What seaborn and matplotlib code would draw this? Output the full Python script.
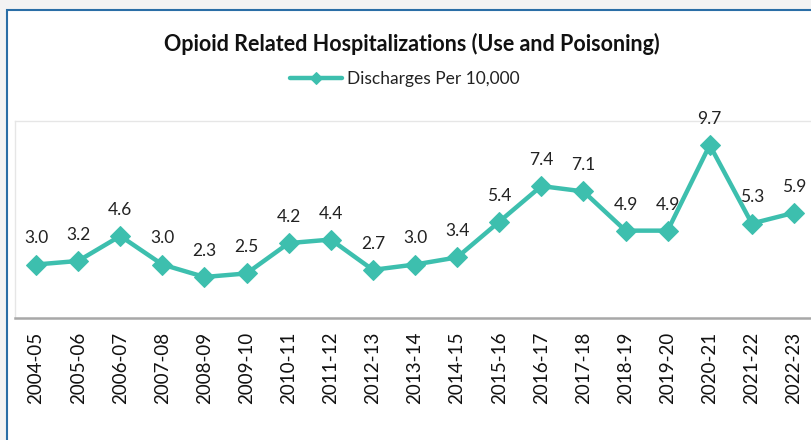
import pandas as pd
import seaborn as sns
import matplotlib.pyplot as plt
from matplotlib.patches import Rectangle

# fiscal years and discharges per 10,000
years = ["2004-05", "2005-06", "2006-07", "2007-08", "2008-09", "2009-10",
         "2010-11", "2011-12", "2012-13", "2013-14", "2014-15", "2015-16",
         "2016-17", "2017-18", "2018-19", "2019-20", "2020-21", "2021-22",
         "2022-23"]
rates = [3.0, 3.2, 4.6, 3.0, 2.3, 2.5, 4.2, 4.4, 2.7, 3.0, 3.4, 5.4,
         7.4, 7.1, 4.9, 4.9, 9.7, 5.3, 5.9]

df = pd.DataFrame({"year": years, "rate": rates})
df["pos"] = range(len(df))

teal = "#3dbfae"

sns.set_style("white")
plt.rcParams["font.family"] = ["Lato", "DejaVu Sans"]

fig = plt.figure(figsize=(8.11, 4.40), dpi=100)
fig.patch.set_facecolor("#f3f3f3")

# white card with blue frame, behind everything
fig.patches.append(Rectangle((7 / 811, -0.1), 1.0, (430 / 440) + 0.1,
                             transform=fig.transFigure, facecolor="white",
                             edgecolor="#2a6ea6", linewidth=1.5, zorder=-10))

ax = fig.add_axes([15 / 811, (440 - 318) / 440, 800 / 811, (318 - 121) / 440])
ax.set_zorder(1)
ax.patch.set_alpha(0)

sns.lineplot(data=df, x="pos", y="rate", ax=ax, color=teal, linewidth=3.2,
             marker="D", markersize=10, markeredgecolor=teal,
             label="Discharges Per 10,000")

for x, y in zip(df["pos"], df["rate"]):
    ax.annotate(f"{y:.1f}", (x, y), xytext=(0, 13), textcoords="offset points",
                ha="center", va="bottom", fontsize=12.5, color="#222222")

ax.set_xlim(-0.5, len(years) - 0.5)
ax.set_ylim(0, 11.05)
ax.set_xticks(df["pos"])
ax.set_xticklabels(years, rotation=90, fontsize=13.5, color="#111111")
ax.set_yticks([])
ax.set_xlabel("")
ax.set_ylabel("")
ax.tick_params(axis="x", length=0, pad=10)

for side in ["left", "top", "right"]:
    ax.spines[side].set_color("#e6e6e6")
    ax.spines[side].set_linewidth(1)
ax.spines["bottom"].set_color("#a8a8a8")
ax.spines["bottom"].set_linewidth(1.8)

fig.text(412 / 811, 1 - 44 / 440,
         "Opioid Related Hospitalizations (Use and Poisoning)",
         ha="center", va="center", fontsize=15.5, fontweight="bold",
         color="#111111")

leg = ax.legend(loc="center", bbox_to_anchor=(405 / 811, 1 - 79 / 440),
                bbox_transform=fig.transFigure, frameon=False, fontsize=12.5,
                handlelength=3.0, handletextpad=0.3)
for t in leg.get_texts():
    t.set_color("#222222")
for h in leg.legend_handles:
    h.set_markersize(6)

fig.savefig("out.png", dpi=100, facecolor=fig.get_facecolor())
